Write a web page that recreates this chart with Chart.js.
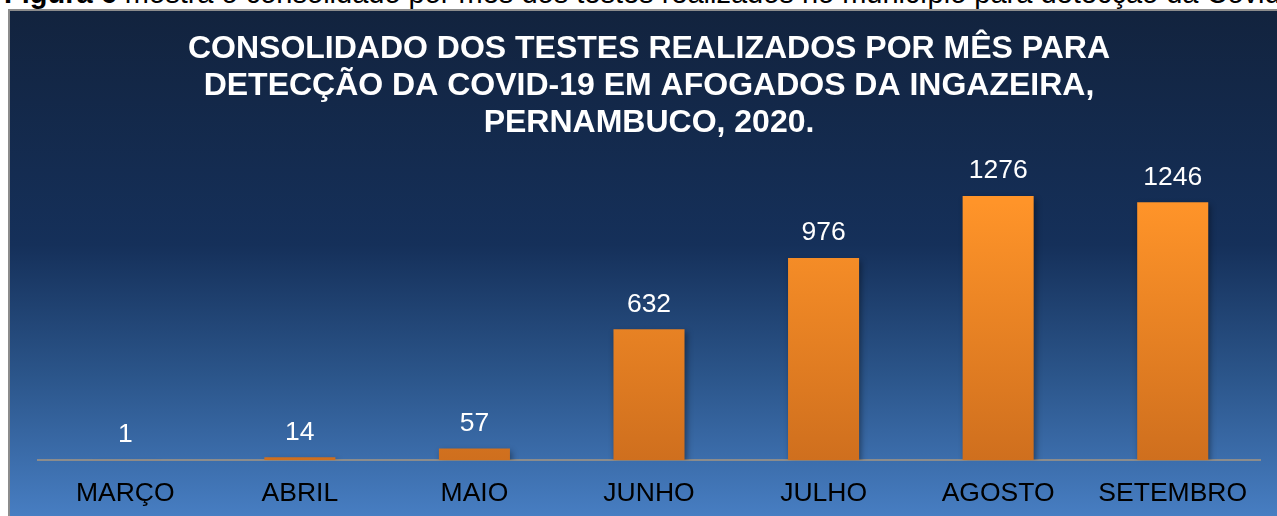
<!DOCTYPE html>
<html>
<head>
<meta charset="utf-8">
<script src="https://cdn.jsdelivr.net/npm/chart.js@4.4.0/dist/chart.umd.min.js"></script>
<style>
  html, body { margin: 0; padding: 0; background: #fff; overflow: hidden; }
  body { width: 1277px; height: 516px; position: relative; font-family: "Liberation Sans", Arial, sans-serif; }
  #caption { position: absolute; left: 4px; top: -22px; font-size: 29px; line-height: 1.1; color: #000; white-space: nowrap; }
  #box {
    position: absolute; left: 8px; top: 9px; width: 1290px; height: 520px;
    border-left: 2px solid #8c8c8c; border-top: 2px solid #8c8c8c;
    background: linear-gradient(to bottom, #12233e 0%, #15305a 45%, #2b558a 70%, #4a82c8 100%);
  }
  #wrap { position: absolute; left: 0; top: 0; width: 1277px; height: 516px; }
</style>
</head>
<body>
<div id="caption"><b>Figura 6</b> mostra o consolidado por mês dos testes realizados no município para detecção da Covid-19</div>
<div id="box"></div>
<div id="wrap"><canvas id="testesChart"></canvas></div>
<script>
const months = ['MARÇO', 'ABRIL', 'MAIO', 'JUNHO', 'JULHO', 'AGOSTO', 'SETEMBRO'];
const testCounts = [1, 14, 57, 632, 976, 1276, 1246];
const titleLines = [
  'CONSOLIDADO DOS TESTES REALIZADOS POR MÊS PARA',
  'DETECÇÃO DA COVID-19 EM AFOGADOS DA INGAZEIRA,',
  'PERNAMBUCO, 2020.'
];

// orange gradient on each bar + soft shadow
const barStyle = {
  id: 'barStyle',
  beforeDatasetsDraw(chart) {
    const ctx = chart.ctx;
    chart.getDatasetMeta(0).data.forEach(bar => {
      const g = ctx.createLinearGradient(0, bar.y, 0, bar.base);
      g.addColorStop(0, '#ff9429');
      g.addColorStop(1, '#cf6f1e');
      bar.options.backgroundColor = g;
    });
    ctx.save();
    ctx.shadowColor = 'rgba(0,0,0,0.4)';
    ctx.shadowBlur = 6;
    ctx.shadowOffsetX = 2;
    ctx.shadowOffsetY = 3;
  },
  afterDatasetsDraw(chart) {
    const ctx = chart.ctx;
    ctx.restore();
    ctx.save();
    ctx.fillStyle = '#ffffff';
    ctx.font = '26.5px "Liberation Sans", Arial, sans-serif';
    ctx.textAlign = 'center';
    ctx.textBaseline = 'middle';
    chart.getDatasetMeta(0).data.forEach((bar, i) => {
      ctx.fillText(testCounts[i], bar.x, bar.y - 25);
    });
    ctx.restore();
  }
};

new Chart(document.getElementById('testesChart'), {
  type: 'bar',
  data: {
    labels: months,
    datasets: [{
      data: testCounts,
      backgroundColor: '#f28a26',
      categoryPercentage: 1,
      barPercentage: 0.407
    }]
  },
  options: {
    responsive: true,
    maintainAspectRatio: false,
    animation: false,
    layout: { padding: { left: 38, right: 17, top: 16, bottom: -12 } },
    plugins: {
      legend: { display: false },
      tooltip: { enabled: false },
      title: {
        display: true,
        text: titleLines,
        color: '#ffffff',
        font: { family: '"Liberation Sans", Arial, sans-serif', size: 32, weight: 'bold', lineHeight: 1.17 },
        padding: { top: 14, bottom: 28 }
      }
    },
    scales: {
      x: {
        grid: { display: false, drawTicks: false },
        border: { color: '#8c8c8c', width: 2 },
        ticks: {
          color: '#000000',
          padding: 18,
          font: { family: '"Liberation Sans", Arial, sans-serif', size: 26.5 }
        }
      },
      y: { display: false, min: 0, max: 1400 }
    }
  },
  plugins: [barStyle]
});
</script>
</body>
</html>
